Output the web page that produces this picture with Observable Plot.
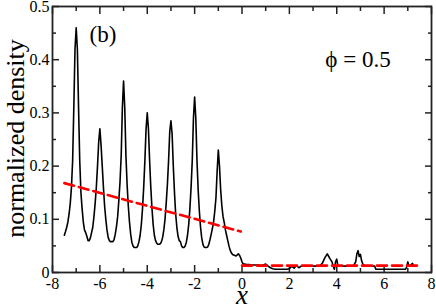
<!DOCTYPE html>
<html>
<head>
<meta charset="utf-8">
<script src="https://cdn.jsdelivr.net/npm/d3@7"></script>
<script src="https://cdn.jsdelivr.net/npm/@observablehq/plot@0.6"></script>
<style>
  html, body { margin: 0; padding: 0; background: #fff; }
  #chart svg { display: block; }
  #chart svg, #chart svg text, #chart svg tspan { font-family: "Liberation Serif", "Times New Roman", serif !important; }
</style>
</head>
<body>
<div id="chart"></div>
<script>
// Density curve (x, normalized density)
const densX = [
  -7.5,-7.45,-7.4,-7.35,-7.3,-7.25,-7.2,-7.15,-7.1,-7.05,-7,-6.95,-6.9,-6.85,-6.8,-6.75,-6.7,-6.65,-6.6,-6.55,
  -6.5,-6.45,-6.4,-6.35,-6.3,-6.25,-6.2,-6.15,-6.1,-6.05,-6,-5.95,-5.9,-5.85,-5.8,-5.75,-5.7,-5.65,-5.6,-5.55,
  -5.5,-5.45,-5.4,-5.35,-5.3,-5.25,-5.2,-5.15,-5.1,-5.05,-5,-4.95,-4.9,-4.85,-4.8,-4.75,-4.7,-4.65,-4.6,-4.55,
  -4.5,-4.45,-4.4,-4.35,-4.3,-4.25,-4.2,-4.15,-4.1,-4.05,-4,-3.95,-3.9,-3.85,-3.8,-3.75,-3.7,-3.65,-3.6,-3.55,
  -3.5,-3.45,-3.4,-3.35,-3.3,-3.25,-3.2,-3.15,-3.1,-3.05,-3,-2.95,-2.9,-2.85,-2.8,-2.75,-2.7,-2.65,-2.6,-2.55,
  -2.5,-2.45,-2.4,-2.35,-2.3,-2.25,-2.2,-2.15,-2.1,-2.05,-2,-1.95,-1.9,-1.85,-1.8,-1.75,-1.7,-1.65,-1.6,-1.55,
  -1.5,-1.45,-1.4,-1.35,-1.3,-1.25,-1.2,-1.15,-1.1,-1.05,-1,-0.95,-0.9,-0.85,-0.8,-0.75,-0.7,-0.65,-0.6,-0.55,
  -0.5,-0.45,-0.4,-0.35,-0.3,-0.25,-0.2,-0.15,-0.1,-0.05,0,0.05,
  0.1,0.2,0.3,0.4,0.5,0.6,0.7,0.8,0.9,1.0,1.1,1.2,1.3,1.4,1.5,1.6,1.7,1.8,1.9,2.0,
  2.1,2.2,2.3,2.4,2.5,2.6,2.7,2.8,2.9,3.0,3.1,3.2,3.3,3.4,3.5,3.6,3.65,3.7,3.8,3.85,
  3.9,3.95,4.0,4.05,4.1,4.2,4.3,4.4,4.5,4.6,4.7,4.8,4.85,4.9,4.95,5.0,5.05,5.1,5.2,5.3,
  5.4,5.5,5.6,5.65,5.7,5.8,5.9,6.0,6.1,6.2,6.3,6.4,6.5,6.6,6.7,6.8,6.9,6.95,7.0,7.05,
  7.1,7.2,7.25,7.3,7.35
];
const densY = [
  0.070,0.077,0.085,0.095,0.110,0.130,0.160,0.210,0.310,0.420,0.460,0.420,0.310,0.210,0.150,0.120,0.095,0.080,0.075,0.068,
  0.060,0.060,0.065,0.075,0.085,0.105,0.130,0.160,0.200,0.245,0.270,0.240,0.200,0.160,0.125,0.100,0.080,0.066,0.060,0.058,
  0.058,0.058,0.062,0.072,0.086,0.105,0.135,0.170,0.220,0.310,0.360,0.310,0.220,0.165,0.125,0.095,0.072,0.057,0.050,0.047,
  0.047,0.047,0.050,0.058,0.070,0.090,0.120,0.160,0.210,0.270,0.300,0.270,0.210,0.160,0.120,0.090,0.070,0.060,0.055,0.053,
  0.053,0.054,0.058,0.066,0.080,0.100,0.130,0.165,0.210,0.265,0.285,0.260,0.200,0.150,0.110,0.085,0.068,0.060,0.058,0.050,
  0.047,0.047,0.050,0.057,0.070,0.090,0.120,0.160,0.210,0.290,0.330,0.290,0.210,0.155,0.115,0.085,0.065,0.053,0.048,0.047,
  0.047,0.048,0.053,0.062,0.072,0.083,0.095,0.115,0.140,0.190,0.230,0.200,0.155,0.125,0.105,0.094,0.080,0.070,0.060,0.050,
  0.042,0.037,0.034,0.033,0.032,0.031,0.033,0.035,0.032,0.027,0.020,0.016,
  0.016,0.015,0.015,0.014,0.014,0.014,0.014,0.013,0.014,0.016,0.012,0.009,0.007,0.006,0.006,0.006,0.006,0.006,0.006,0.007,
  0.012,0.008,0.013,0.009,0.012,0.012,0.012,0.012,0.012,0.012,0.012,0.012,0.013,0.018,0.028,0.035,0.031,0.027,0.020,0.012,
  0.006,0.020,0.025,0.012,0.012,0.012,0.012,0.012,0.012,0.012,0.012,0.020,0.035,0.041,0.030,0.034,0.022,0.016,0.012,0.012,
  0.012,0.012,0.012,0.006,0.006,0.006,0.006,0.006,0.006,0.006,0.006,0.006,0.006,0.006,0.006,0.006,0.006,0.010,0.020,0.012,
  0.013,0.017,0.012,0.012,0.012
];

// Red dashed fits
const fitLeftX = [-7.5, -0.05];
const fitLeftY = [0.168, 0.077];
const fitRightX = [0.0, 7.45];
const fitRightY = [0.013, 0.013];

// Ticks
const xMajor = [-8, -6, -4, -2, 0, 2, 4, 6, 8];
const xMinor = [-7, -5, -3, -1, 1, 3, 5, 7];
const yMajor = [0, 0.1, 0.2, 0.3, 0.4, 0.5];
const yMinor = [0.05, 0.15, 0.25, 0.35, 0.45];

// Text
const yLabel = "normalized density";
const xLabel = "x";
const panelLabel = "(b)";
const phiLabel = "ϕ = 0.5";

const density = densX.map((x, i) => ({x, y: densY[i]}));
const fitLeft = fitLeftX.map((x, i) => ({x, y: fitLeftY[i]}));
const fitRight = fitRightX.map((x, i) => ({x, y: fitRightY[i]}));

const serif = "Liberation Serif";
const axisColor = "#222";
const blank = () => "";
function inwardTicks(vals, size) {
  return [
    Plot.axisX(vals, {anchor: "bottom", tickSize: size, dy: -size, tickFormat: blank, label: null, stroke: axisColor, strokeWidth: 1.5}),
    Plot.axisX(vals, {anchor: "top", tickSize: size, dy: size, tickFormat: blank, label: null, stroke: axisColor, strokeWidth: 1.5})
  ];
}
function inwardTicksY(vals, size) {
  return [
    Plot.axisY(vals, {anchor: "left", tickSize: size, dx: size, tickFormat: blank, label: null, stroke: axisColor, strokeWidth: 1.5}),
    Plot.axisY(vals, {anchor: "right", tickSize: size, dx: -size, tickFormat: blank, label: null, stroke: axisColor, strokeWidth: 1.5})
  ];
}

const chart = Plot.plot({
  width: 436,
  height: 306,
  marginLeft: 52,
  marginRight: 5,
  marginTop: 6,
  marginBottom: 34,
  style: {fontFamily: serif, fontSize: "16px", background: "white", color: "black"},
  x: {domain: [-8, 8]},
  y: {domain: [0, 0.5]},
  marks: [
    ...inwardTicks(xMajor, 7),
    ...inwardTicks(xMinor, 4),
    ...inwardTicksY(yMajor, 7),
    ...inwardTicksY(yMinor, 4),
    Plot.axisX(xMajor, {anchor: "bottom", tickSize: 0, tickPadding: 5, tickFormat: d => String(d), label: null, fontSize: 16, fontFamily: serif, fill: "black"}),
    Plot.axisY(yMajor, {anchor: "left", tickSize: 0, tickPadding: 3, tickFormat: d => String(d), label: null, fontSize: 16, fontFamily: serif, fill: "black"}),
    Plot.line(density, {x: "x", y: "y", stroke: "black", strokeWidth: 1.6}),
    Plot.line(fitLeft, {x: "x", y: "y", stroke: "#ff0000", strokeWidth: 2.6, strokeDasharray: "10,5"}),
    Plot.line(fitRight, {x: "x", y: "y", stroke: "#ff0000", strokeWidth: 2.6, strokeDasharray: "10,5"}),
    Plot.frame({stroke: axisColor, strokeWidth: 1.8}),
    Plot.text([yLabel], {frameAnchor: "left", rotate: -90, dx: -28.5, dy: -1, textAnchor: "middle", lineAnchor: "bottom", fontSize: 26, fontFamily: serif, fill: "black"}),
    Plot.text([xLabel], {frameAnchor: "bottom", dy: 31, textAnchor: "middle", lineAnchor: "bottom", fontSize: 27, fontStyle: "italic", fontFamily: serif, fill: "black"}),
    Plot.text([panelLabel], {frameAnchor: "top-left", dx: 37, dy: 35, textAnchor: "start", lineAnchor: "bottom", fontSize: 23, fontFamily: serif, fill: "black"}),
    Plot.text([phiLabel], {frameAnchor: "top-left", dx: 305.5, dy: 60.5, textAnchor: "middle", lineAnchor: "bottom", fontSize: 23, fontFamily: serif, fill: "black"})
  ]
});
document.getElementById("chart").appendChild(chart);
</script>
</body>
</html>
